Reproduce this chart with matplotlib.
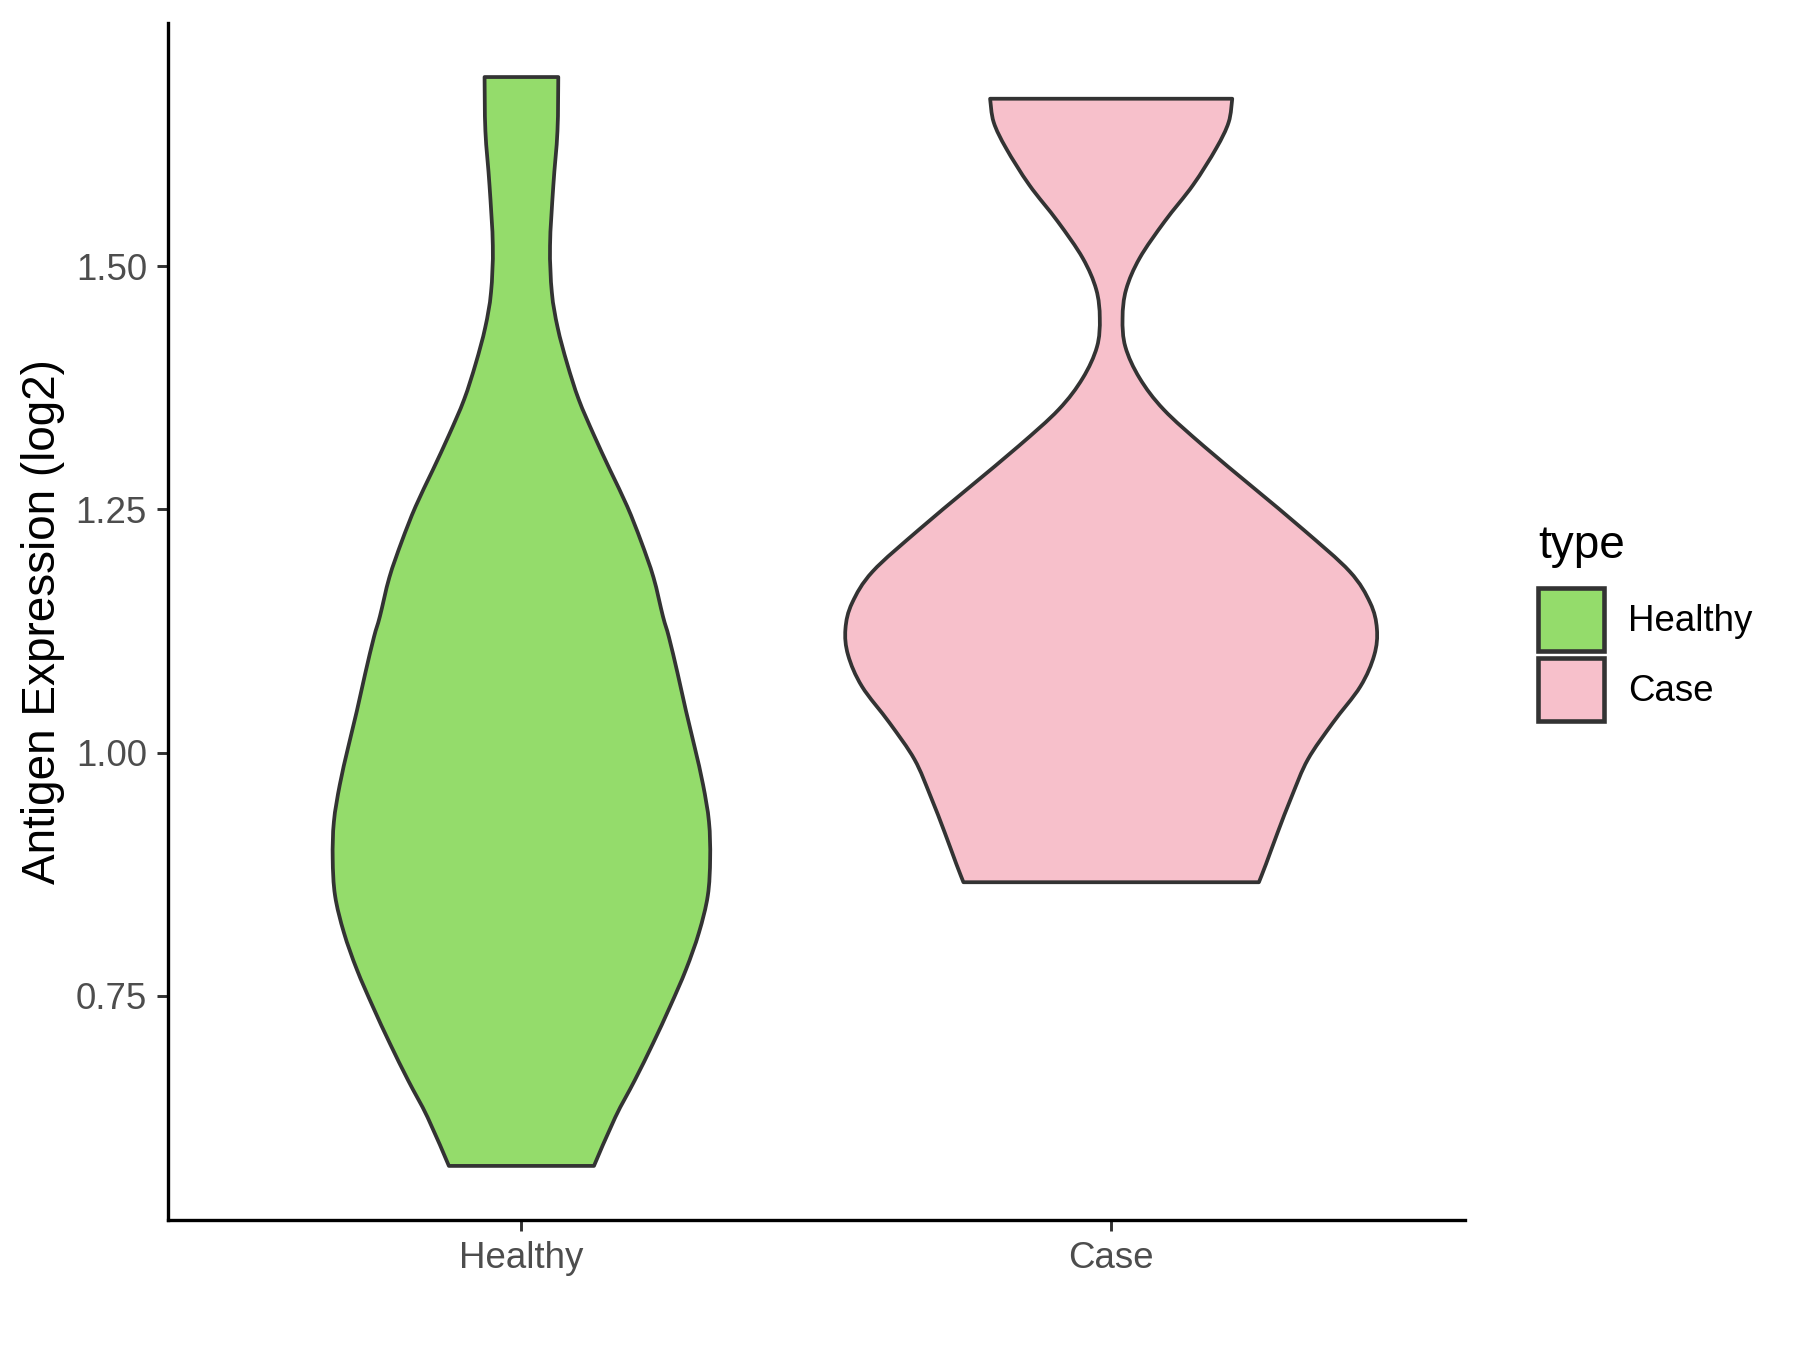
import matplotlib
matplotlib.use("Agg")
import matplotlib.pyplot as plt
from matplotlib.path import Path
from matplotlib.patches import PathPatch, Patch

# categories and fills
categories = ["Healthy", "Case"]
fill_colors = ["#94DC6B", "#F7C0CB"]

# violin outlines: y value and half width (x units)
healthy_y = [0.5752, 0.625, 0.663, 0.701, 0.739, 0.777, 0.815, 0.853, 0.891,
             0.929, 0.967, 1.005, 1.043, 1.081, 1.119, 1.140, 1.180, 1.217,
             1.253, 1.290, 1.327, 1.363, 1.400, 1.437, 1.473, 1.521, 1.583,
             1.639, 1.6945]
healthy_half = [0.123, 0.159, 0.192, 0.223, 0.252, 0.279, 0.301, 0.316, 0.320,
                0.318, 0.308, 0.294, 0.279, 0.265, 0.250, 0.240, 0.224, 0.203,
                0.1795, 0.1507, 0.1225, 0.0972, 0.0775, 0.0614, 0.0516, 0.0485,
                0.0541, 0.0611, 0.0625]

case_y = [0.8668, 0.8856, 0.9178, 0.9554, 0.993, 1.0306, 1.0681, 1.1003,
          1.1272, 1.154, 1.1862, 1.2292, 1.2722, 1.3151, 1.3527, 1.3849,
          1.4171, 1.4467, 1.4762, 1.5084, 1.546, 1.5835, 1.6211, 1.648, 1.6722]
case_half = [0.2505, 0.2626, 0.2822, 0.3064, 0.3335, 0.3758, 0.4226, 0.4461,
             0.4506, 0.4392, 0.4045, 0.326, 0.2415, 0.157, 0.089, 0.0483,
             0.0241, 0.0193, 0.0254, 0.0483, 0.0906, 0.1388, 0.178, 0.1992,
             0.2053]

y_ticks = [0.75, 1.00, 1.25, 1.50]
y_tick_labels = ["0.75", "1.00", "1.25", "1.50"]


def smooth_side(pts):
    """ Catmull-Rom curve through the outline points, as bezier path parts """
    verts, codes = [], []
    n = len(pts)
    for i in range(n - 1):
        p0 = pts[max(i - 1, 0)]
        p1 = pts[i]
        p2 = pts[i + 1]
        p3 = pts[min(i + 2, n - 1)]
        c1 = (p1[0] + (p2[0] - p0[0]) / 6, p1[1] + (p2[1] - p0[1]) / 6)
        c2 = (p2[0] - (p3[0] - p1[0]) / 6, p2[1] - (p3[1] - p1[1]) / 6)
        verts += [c1, c2, p2]
        codes += [Path.CURVE4] * 3
    return verts, codes


def violin_path(pos, ys, hw):
    left = [(pos - h, y) for y, h in zip(ys, hw)]
    right = [(pos + h, y) for y, h in reversed(list(zip(ys, hw)))]
    verts = [left[0]]
    codes = [Path.MOVETO]
    v, c = smooth_side(left)
    verts += v
    codes += c
    verts.append(right[0])
    codes.append(Path.LINETO)
    v, c = smooth_side(right)
    verts += v
    codes += c
    verts.append(left[0])
    codes.append(Path.CLOSEPOLY)
    return Path(verts, codes)


plt.rcParams['font.family'] = ['Liberation Sans', 'DejaVu Sans']

fig = plt.figure(figsize=(12, 9), dpi=150)
ax = fig.add_axes([0.0931, 0.0963, 0.7208, 0.8867])

profiles = [(healthy_y, healthy_half), (case_y, case_half)]
for i, (ys, hw) in enumerate(profiles):
    patch = PathPatch(violin_path(i + 1, ys, hw), facecolor=fill_colors[i],
                      edgecolor="#333333", linewidth=1.8, joinstyle="round")
    ax.add_patch(patch)

ax.set_xlim(0.4, 2.6)
ax.set_ylim(0.5196, 1.7501)
ax.set_xticks([1, 2])
ax.set_xticklabels(categories)
ax.set_yticks(y_ticks)
ax.set_yticklabels(y_tick_labels)

for side in ["top", "right"]:
    ax.spines[side].set_visible(False)
for side in ["left", "bottom"]:
    ax.spines[side].set_linewidth(1.6)
    ax.spines[side].set_color("black")

ax.tick_params(axis="both", length=5.5, width=1.4, color="#333333",
               labelsize=17.6, labelcolor="#4D4D4D", pad=4.4)
ax.set_ylabel("Antigen Expression (log2)", fontsize=22, color="black",
              labelpad=5)

handles = [Patch(facecolor=c, edgecolor="#333333", linewidth=2.2)
           for c in fill_colors]
leg = fig.legend(handles=handles, labels=categories, title="type",
                 loc="center left", bbox_to_anchor=(0.8445, 0.539),
                 frameon=False, fontsize=17.6, title_fontsize=22,
                 handlelength=1.8, handleheight=2.25, handletextpad=0.65,
                 labelspacing=0.2, borderpad=0, alignment="left")
leg._legend_box.sep = 9.5

fig.savefig("out.png", dpi=150)
